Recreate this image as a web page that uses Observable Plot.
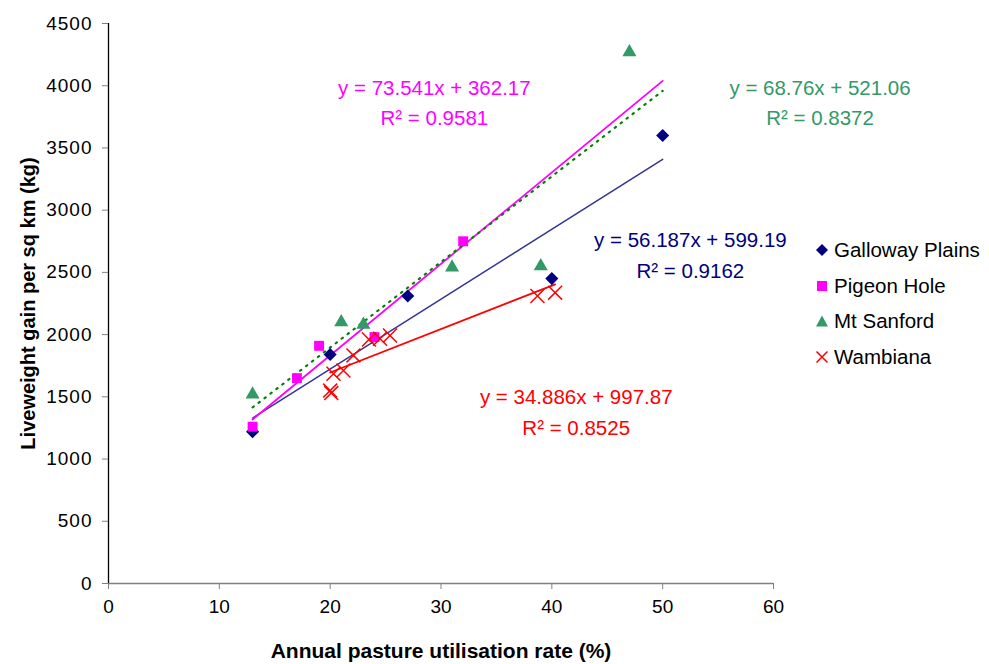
<!DOCTYPE html>
<html><head><meta charset="utf-8">
<script src="https://cdn.jsdelivr.net/npm/d3@7"></script>
<script src="https://cdn.jsdelivr.net/npm/@observablehq/plot@0.6"></script>
<style>
body{margin:0;background:#fff;font-family:"Liberation Sans",Arial,sans-serif;}
#wrap{position:relative;width:989px;height:664px;}
#legend{position:absolute;left:815px;top:232px;}
.item{display:flex;align-items:center;height:35.7px;font-size:20.5px;color:#000;white-space:nowrap;}
.item svg{margin-right:5px;}
</style></head><body><div id="wrap"><div id="chart"></div><div id="legend"></div></div>
<script>
// ---- data ----
const sites = ["Galloway Plains", "Pigeon Hole", "Mt Sanford", "Wambiana"];
const gallowayX = [13, 20, 27, 40, 50];
const gallowayY = [1220, 1840, 2310, 2450, 3600];
const pigeonX = [13, 17, 19, 24, 32];
const pigeonY = [1260, 1650, 1910, 1980, 2750];
const sanfordX = [13, 21, 23, 31, 39, 47];
const sanfordY = [1520, 2100, 2080, 2540, 2550, 4270];
const wambianaX = [20, 20.1, 20.3, 21.2, 22.1, 23.5, 24.5, 25.4, 38.7, 40.3];
const wambianaY = [1550, 1530, 1686, 1712, 1833, 1961, 1967, 1993, 2310, 2337];
// trendlines as displayed on the chart
const trendSlope = [56.187, 73.541, 68.76, 34.886];
const trendIntercept = [599.19, 362.17, 521.06, 997.87];
const trendFrom = [13, 13, 13, 20];
const trendTo = [50, 50, 50, 40.3];
const trendR2 = ["0.9162", "0.9581", "0.8372", "0.8525"];
const xTicks = [0, 10, 20, 30, 40, 50, 60];
const yTicks = [0, 500, 1000, 1500, 2000, 2500, 3000, 3500, 4000, 4500];

// ---- build tables ----
const pts = (name, xs, ys) => xs.map((x, i) => ({site: name, x, y: ys[i]}));
const galloway = pts(sites[0], gallowayX, gallowayY);
const pigeon = pts(sites[1], pigeonX, pigeonY);
const sanford = pts(sites[2], sanfordX, sanfordY);
const wambiana = pts(sites[3], wambianaX, wambianaY);
const trend = sites.map((s, i) => [trendFrom[i], trendTo[i]].map(x => ({site: s, x, y: trendSlope[i] * x + trendIntercept[i]})));
const eqText = sites.map((s, i) => `y = ${trendSlope[i]}x + ${trendIntercept[i]}`);
const r2Text = sites.map((s, i) => `R² = ${trendR2[i]}`);

const navy = "#000080", magenta = "#FF00FF", sea = "#339966", red = "#FF0000";
const eqColor = [navy, magenta, sea, red];
// label anchors (data coords)
const eqPos = [[52.5, 2760], [29.4, 3975], [64.2, 3975], [42.2, 1495]];
const r2Pos = [[52.5, 2505], [29.4, 3740], [64.2, 3740], [42.2, 1250]];
const labels = sites.flatMap((s, i) => [
  {x: eqPos[i][0], y: eqPos[i][1], t: eqText[i], c: eqColor[i]},
  {x: r2Pos[i][0], y: r2Pos[i][1], t: r2Text[i], c: eqColor[i]}
]);

const chart = Plot.plot({
  width: 989, height: 664,
  marginLeft: 108, marginRight: 216, marginTop: 23, marginBottom: 81,
  style: {fontFamily: "Liberation Sans, Arial, sans-serif", fontSize: "19px", color: "#000", background: "#fff"},
  x: {domain: [0, 60]},
  y: {domain: [0, 4500]},
  marks: [
    Plot.ruleY([0], {stroke: "#808080", strokeWidth: 1.3}),
    Plot.ruleX([0], {stroke: "#000", strokeWidth: 1.3}),
    Plot.axisX({ticks: xTicks, tickFormat: d3.format("d"), tickSize: 6, tickPadding: 10, stroke: "#808080", fontSize: 19, label: "Annual pasture utilisation rate (%)", labelAnchor: "center", labelArrow: "none", labelOffset: 74}),
    Plot.axisY({ticks: yTicks, tickFormat: d3.format("d"), tickSize: 6, tickPadding: 10, stroke: "#808080", fontSize: 19, label: "Liveweight gain per sq km (kg)", labelAnchor: "center", labelArrow: "none", labelOffset: 88}),
    Plot.line(trend[0], {x: "x", y: "y", stroke: "#333399", strokeWidth: 1.5}),
    Plot.line(trend[1], {x: "x", y: "y", stroke: magenta, strokeWidth: 1.8}),
    Plot.line(trend[2], {x: "x", y: "y", stroke: "#008000", strokeWidth: 2.2, strokeDasharray: "1.5,6", strokeLinecap: "round"}),
    Plot.line(trend[3], {x: "x", y: "y", stroke: red, strokeWidth: 1.8}),
    Plot.dot(galloway, {x: "x", y: "y", symbol: "diamond2", r: 5.9, fill: navy, stroke: "none"}),
    Plot.dot(pigeon, {x: "x", y: "y", symbol: "square", r: 5.6, fill: magenta, stroke: "none"}),
    Plot.dot(sanford, {x: "x", y: "y", symbol: "triangle", r: 5.2, fill: sea, stroke: "none"}),
    Plot.dot(wambiana, {x: "x", y: "y", symbol: "times", r: 6.4, stroke: red, strokeWidth: 1.5}),
    Plot.text(labels, {x: "x", y: "y", text: "t", fill: "c", fontSize: 20.5, textAnchor: "middle", clip: false})
  ]
});
document.getElementById("chart").appendChild(chart);
const svg = d3.select(chart);
svg.selectAll('[aria-label="x-axis label"]').attr("font-weight", "bold").attr("font-size", 21);
svg.selectAll('[aria-label="y-axis label"]').attr("font-weight", "bold").attr("font-size", 20);
svg.selectAll('[aria-label="y-axis tick label"] text').attr("letter-spacing", "1px");

// ---- legend ----
const legendSym = [
  '<path d="M6,0 L12,6 L6,12 L0,6Z" fill="' + navy + '"/>',
  '<rect x="1" y="1" width="10" height="10" fill="' + magenta + '"/>',
  '<path d="M6,0.5 L12,11.5 L0,11.5Z" fill="' + sea + '"/>',
  '<path d="M0.5,0.5 L11.5,11.5 M0.5,11.5 L11.5,0.5" stroke="' + red + '" stroke-width="1.5"/>'
];
const lg = document.getElementById("legend");
sites.forEach((s, i) => {
  const d = document.createElement("div");
  d.className = "item";
  d.innerHTML = '<svg width="14" height="14" viewBox="-1 -1 14 14">' + legendSym[i] + '</svg><span>' + s + '</span>';
  lg.appendChild(d);
});
</script></body></html>
